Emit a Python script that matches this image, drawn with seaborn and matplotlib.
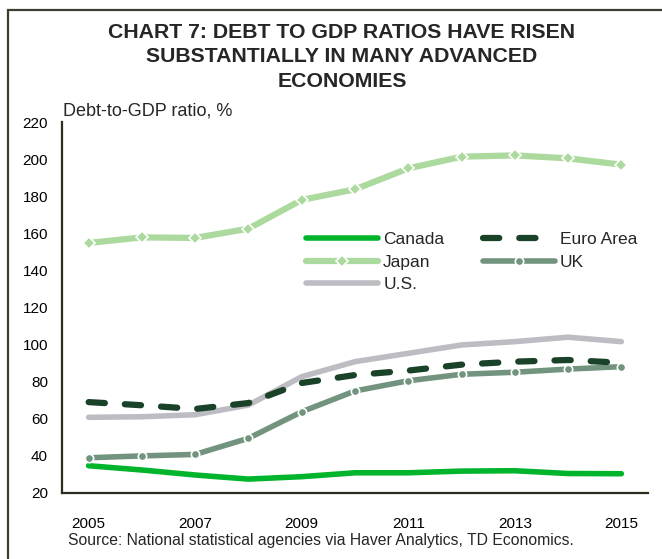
import matplotlib
matplotlib.use("Agg")
import matplotlib.pyplot as plt
import seaborn as sns
import pandas as pd
from matplotlib.patches import Rectangle

years = [2005, 2006, 2007, 2008, 2009, 2010, 2011, 2012, 2013, 2014, 2015]
canada = [34.7, 32.4, 29.7, 27.5, 28.8, 30.9, 30.9, 31.8, 32.0, 30.5, 30.4]
euro_area = [69.0, 67.3, 65.3, 68.5, 79.3, 83.6, 86.0, 89.2, 90.8, 91.7, 90.2]
japan = [154.8, 157.8, 157.5, 162.5, 178.0, 183.7, 195.0, 201.3, 202.0, 200.4, 197.0]
uk = [39.0, 40.0, 40.8, 49.5, 63.8, 75.0, 80.5, 84.0, 85.1, 86.8, 88.1]
us = [60.8, 61.1, 62.2, 67.4, 82.7, 90.8, 95.3, 99.8, 101.6, 104.0, 101.6]

series_names = ["Canada", "Euro Area", "Japan", "UK", "U.S."]
series_values = [canada, euro_area, japan, uk, us]

title = "CHART 7: DEBT TO GDP RATIOS HAVE RISEN\nSUBSTANTIALLY IN MANY ADVANCED\nECONOMIES"
ylabel = "Debt-to-GDP ratio, %"
source = "Source: National statistical agencies via Haver Analytics, TD Economics."
xticks = [2005, 2007, 2009, 2011, 2013, 2015]
yticks = [20, 40, 60, 80, 100, 120, 140, 160, 180, 200, 220]

sns.set_theme(style="white")
plt.rcParams['font.family'] = ['Liberation Sans', 'DejaVu Sans']

fig = plt.figure(figsize=(6.62, 5.59), dpi=100)
ax = fig.add_axes([62/662, 66/559, (648-62)/662, (493-122)/559])

styles = {
    "Canada": dict(color="#00B52B", lw=4.0, marker=None, dashes=None),
    "Euro Area": dict(color="#1A4228", lw=4.5, marker=None, dashes=(2.6, 3.2)),
    "Japan": dict(color="#ACDA9E", lw=4.5, marker="D", ms=6, dashes=None),
    "UK": dict(color="#72947F", lw=4.0, marker="o", ms=6, dashes=None),
    "U.S.": dict(color="#BDBCC3", lw=4.0, marker=None, dashes=None),
}
zorder = {"Canada": 3, "Euro Area": 4, "Japan": 3, "UK": 3, "U.S.": 2}

df = pd.DataFrame({"year": years})
for name, vals in zip(series_names, series_values):
    df[name] = vals

for name in series_names:
    st = styles[name]
    kw = dict(x="year", y=name, data=df, ax=ax, color=st["color"], linewidth=st["lw"],
              label=name, zorder=zorder[name])
    if st["marker"]:
        kw.update(marker=st["marker"], markersize=st["ms"], markeredgecolor="white",
                  markeredgewidth=1.2)
    sns.lineplot(**kw)
    ln = ax.get_lines()[-1]
    ln.set_solid_capstyle("round")
    if st["dashes"]:
        ln.set_dashes(st["dashes"])
        ln.set_dash_capstyle("round")

ax.set_xlim(2004.5, 2015.5)
ax.set_ylim(20, 220)
ax.set_xticks(xticks)
ax.set_yticks(yticks)
ax.set_xlabel("")
ax.set_ylabel("")
ax.tick_params(axis="both", length=0, labelsize=11, colors="black")
ax.tick_params(axis="x", pad=17)
ax.tick_params(axis="y", pad=10)
for s in ["top", "right"]:
    ax.spines[s].set_visible(False)
for s in ["left", "bottom"]:
    ax.spines[s].set_color("#2A2E1E")
    ax.spines[s].set_linewidth(1.6)
ax.grid(False)

handles, labels = ax.get_legend_handles_labels()
# column-major fill gives rows: Canada | Euro Area, Japan | UK, U.S.
order = ["Canada", "Japan", "U.S.", "Euro Area", "UK"]
hmap = dict(zip(labels, handles))
leg = ax.legend([hmap[o] for o in order], order, ncol=2, frameon=False,
                loc="upper left", bbox_to_anchor=((306 - 62) / 586, (493 - 232) / 371),
                fontsize=12.5, handlelength=4.15, columnspacing=2.2, handletextpad=0.3,
                labelspacing=0.42, borderaxespad=0, borderpad=0)

fig.text(342/662, 1 - 57/559, title, ha="center", va="center", fontsize=15.3,
         fontweight="bold", linespacing=1.35)
fig.text(63/662, 1 - 111/559, ylabel, ha="left", va="center", fontsize=13)
fig.text(68/662, 1 - 541/559, source, ha="left", va="center", fontsize=11.3)

fig.patches.append(Rectangle((8/662, -0.1), 1.2, 1 - 10/559 + 0.1,
                             transform=fig.transFigure, fill=False,
                             edgecolor="#3A4030", linewidth=1.6))

fig.savefig("out.png", dpi=100)
